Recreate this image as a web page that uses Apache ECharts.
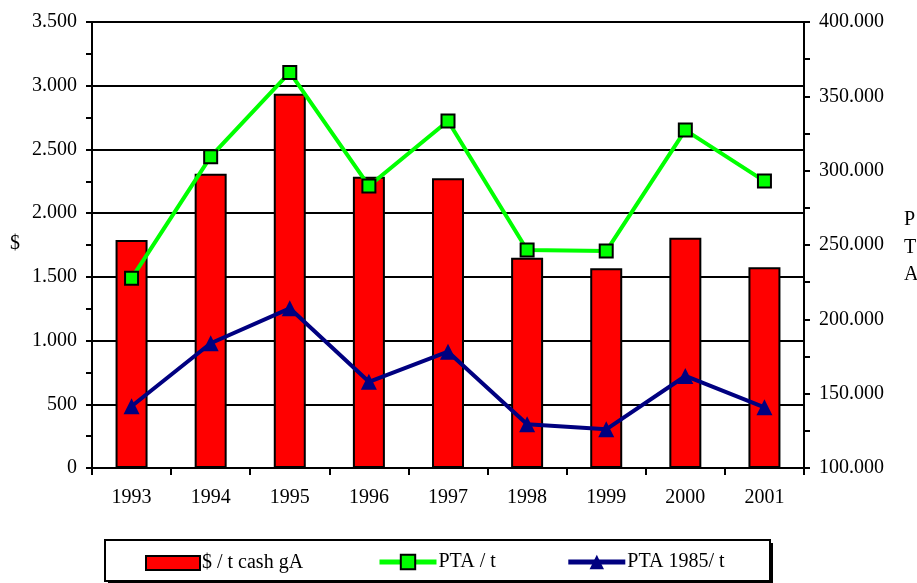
<!DOCTYPE html>
<html>
<head>
<meta charset="utf-8">
<script src="https://cdn.jsdelivr.net/npm/echarts@6/dist/echarts.min.js"></script>
<style>
  html, body { margin: 0; padding: 0; background: #fff; }
  #chart { width: 917px; height: 583px; }
</style>
</head>
<body>
<div id="chart"></div>
<script>
// data
const years = ["1993", "1994", "1995", "1996", "1997", "1998", "1999", "2000", "2001"]
const cashPerTon = [1790, 2310, 2937, 2286, 2273, 1650, 1567, 1807, 1575]
const ptaPerTon = [227600, 309400, 366100, 289700, 333400, 246600, 245900, 327300, 293000]
const pta1985 = [141500, 183900, 207400, 158000, 178200, 129400, 126000, 161900, 140800]
const seriesNames = ["$ / t cash gA", "PTA / t", "PTA 1985/ t"]

const FONT = "Liberation Serif"
const FS = 20

function dots(v) {
  return String(v).replace(/\B(?=(\d{3})+(?!\d))/g, ".")
}

const myChart = echarts.init(document.getElementById("chart"))

const axisCommon = {
  axisLine: { show: true, lineStyle: { color: "#000", width: 2 } },
  axisTick: { show: true, length: 6, lineStyle: { color: "#000", width: 2 } },
  minorTick: { show: true, splitNumber: 2, length: 6, lineStyle: { color: "#000", width: 2 } },
  axisLabel: { color: "#000", fontFamily: FONT, fontSize: FS, margin: 15, formatter: dots },
}

const legendText = { color: "#000", fontFamily: FONT, fontSize: FS, padding: [0, 0, 0, -3] }

const option = {
  backgroundColor: "#fff",
  animation: false,
  grid: { left: 92, right: 113, top: 22, bottom: 115 },
  xAxis: {
    type: "category",
    data: years,
    boundaryGap: true,
    axisLine: { lineStyle: { color: "#000", width: 2 } },
    axisTick: { show: true, length: 7, lineStyle: { color: "#000", width: 2 } },
    axisLabel: { color: "#000", fontFamily: FONT, fontSize: FS, margin: 20 },
  },
  yAxis: [
    {
      type: "value",
      min: 0,
      max: 3500,
      interval: 500,
      position: "left",
      ...axisCommon,
      splitLine: { show: true, lineStyle: { color: "#000", width: 2 } },
    },
    {
      type: "value",
      min: 100000,
      max: 400000,
      interval: 50000,
      position: "right",
      ...axisCommon,
      splitLine: { show: false },
    },
  ],
  legend: [
    {
      left: 145,
      top: 553,
      padding: 0,
      itemWidth: 54,
      itemHeight: 14,
      textStyle: legendText,
      data: [{ name: seriesNames[0], icon: "rect" }],
    },
    {
      left: 377,
      top: 552,
      padding: 0,
      itemWidth: 57,
      itemHeight: 18,
      itemGap: 70,
      lineStyle: { width: 5 },
      textStyle: legendText,
      data: [seriesNames[1], seriesNames[2]],
    },
  ],
  graphic: [
    {
      type: "rect",
      z: -2,
      shape: { x: 108, y: 543, width: 665, height: 41 },
      style: { fill: "#000" },
    },
    {
      type: "rect",
      z: -1,
      shape: { x: 105, y: 540, width: 665, height: 41 },
      style: { fill: "#fff", stroke: "#000", lineWidth: 2 },
    },
    {
      type: "text",
      left: 10,
      top: 234,
      style: { text: "$", fill: "#000", font: FS + "px " + FONT },
    },
    {
      type: "text",
      left: 904,
      top: 206,
      style: { text: "P\nT\nA", fill: "#000", font: FS + "px " + FONT, lineHeight: 27.5 },
    },
  ],
  series: [
    {
      name: seriesNames[0],
      type: "bar",
      yAxisIndex: 0,
      data: cashPerTon,
      barWidth: 32,
      itemStyle: { color: "#ff0000", borderColor: "#000", borderWidth: 2 },
    },
    {
      name: seriesNames[1],
      type: "line",
      yAxisIndex: 1,
      data: ptaPerTon,
      symbol: "rect",
      symbolSize: 13,
      lineStyle: { color: "#00ff00", width: 4 },
      itemStyle: { color: "#00ff00", borderColor: "#000", borderWidth: 2 },
    },
    {
      name: seriesNames[2],
      type: "line",
      yAxisIndex: 1,
      data: pta1985,
      symbol: "triangle",
      symbolSize: 16,
      lineStyle: { color: "#000080", width: 4 },
      itemStyle: { color: "#000080" },
    },
  ],
}

myChart.setOption(option)
</script>
</body>
</html>
